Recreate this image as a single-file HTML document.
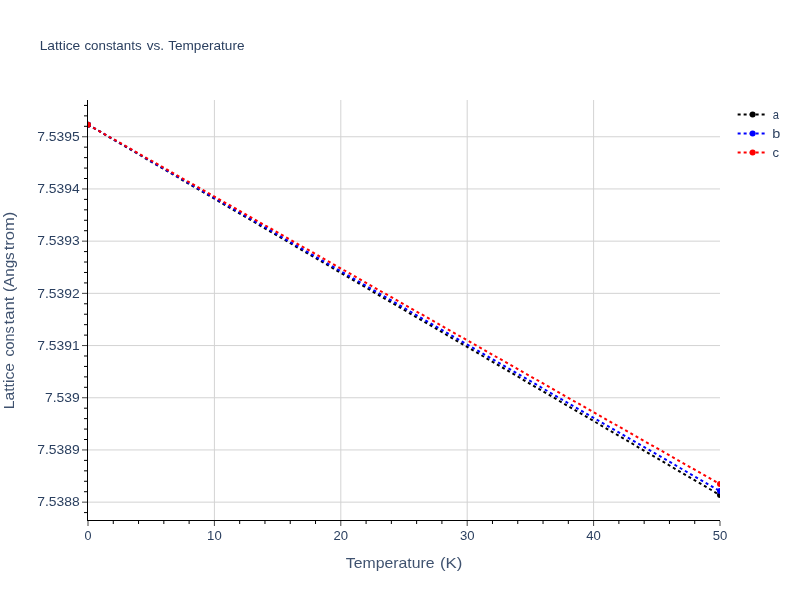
<!DOCTYPE html>
<html><head><meta charset="utf-8"><title>Lattice constants vs. Temperature</title>
<style>html,body{margin:0;padding:0;background:#fff;}body{width:800px;height:600px;overflow:hidden;}svg{display:block;will-change:transform;}text{font-family:"Liberation Sans",sans-serif;fill:#2a3f5f;}</style>
</head><body>
<svg width="800" height="600" viewBox="0 0 800 600">
<rect x="0" y="0" width="800" height="600" fill="#ffffff"/>
<defs><clipPath id="plot"><rect x="88" y="100" width="632" height="420"/></clipPath></defs>
<g stroke="#d3d3d3" stroke-width="1" fill="none">
<path d="M214.40,100 V520"/>
<path d="M340.80,100 V520"/>
<path d="M467.20,100 V520"/>
<path d="M593.60,100 V520"/>
<path d="M88,136.75 H720"/>
<path d="M88,188.95 H720"/>
<path d="M88,241.15 H720"/>
<path d="M88,293.35 H720"/>
<path d="M88,345.55 H720"/>
<path d="M88,397.75 H720"/>
<path d="M88,449.95 H720"/>
<path d="M88,502.15 H720"/>
</g>
<g clip-path="url(#plot)">
<path d="M88,124.65 L720,495.10" stroke="#000000" stroke-width="2" stroke-dasharray="3,3" fill="none"/>
<path d="M88,124.65 L720,491.10" stroke="#0000ff" stroke-width="2" stroke-dasharray="3,3" fill="none"/>
<path d="M88,124.65 L720,484.10" stroke="#ff0000" stroke-width="2" stroke-dasharray="3,3" fill="none"/>
<circle cx="88" cy="124.65" r="3" fill="#000000"/>
<circle cx="720" cy="495.10" r="3" fill="#000000"/>
<circle cx="88" cy="124.65" r="3" fill="#0000ff"/>
<circle cx="720" cy="491.10" r="3" fill="#0000ff"/>
<circle cx="88" cy="124.65" r="3" fill="#ff0000"/>
<circle cx="720" cy="484.10" r="3" fill="#ff0000"/>
</g>
<g stroke="#000000" stroke-width="1" fill="none">
<path d="M84,105.43 H87"/>
<path d="M84,115.87 H87"/>
<path d="M84,126.31 H87"/>
<path d="M84,147.19 H87"/>
<path d="M84,157.63 H87"/>
<path d="M84,168.07 H87"/>
<path d="M84,178.51 H87"/>
<path d="M84,199.39 H87"/>
<path d="M84,209.83 H87"/>
<path d="M84,220.27 H87"/>
<path d="M84,230.71 H87"/>
<path d="M84,251.59 H87"/>
<path d="M84,262.03 H87"/>
<path d="M84,272.47 H87"/>
<path d="M84,282.91 H87"/>
<path d="M84,303.79 H87"/>
<path d="M84,314.23 H87"/>
<path d="M84,324.67 H87"/>
<path d="M84,335.11 H87"/>
<path d="M84,355.99 H87"/>
<path d="M84,366.43 H87"/>
<path d="M84,376.87 H87"/>
<path d="M84,387.31 H87"/>
<path d="M84,408.19 H87"/>
<path d="M84,418.63 H87"/>
<path d="M84,429.07 H87"/>
<path d="M84,439.51 H87"/>
<path d="M84,460.39 H87"/>
<path d="M84,470.83 H87"/>
<path d="M84,481.27 H87"/>
<path d="M84,491.71 H87"/>
<path d="M84,512.59 H87"/>
<path d="M113.28,521 V524"/>
<path d="M138.56,521 V524"/>
<path d="M163.84,521 V524"/>
<path d="M189.12,521 V524"/>
<path d="M239.68,521 V524"/>
<path d="M264.96,521 V524"/>
<path d="M290.24,521 V524"/>
<path d="M315.52,521 V524"/>
<path d="M366.08,521 V524"/>
<path d="M391.36,521 V524"/>
<path d="M416.64,521 V524"/>
<path d="M441.92,521 V524"/>
<path d="M492.48,521 V524"/>
<path d="M517.76,521 V524"/>
<path d="M543.04,521 V524"/>
<path d="M568.32,521 V524"/>
<path d="M618.88,521 V524"/>
<path d="M644.16,521 V524"/>
<path d="M669.44,521 V524"/>
<path d="M694.72,521 V524"/>
</g>
<g stroke="#444444" stroke-width="1" fill="none">
<path d="M82,136.75 H87"/>
<path d="M82,188.95 H87"/>
<path d="M82,241.15 H87"/>
<path d="M82,293.35 H87"/>
<path d="M82,345.55 H87"/>
<path d="M82,397.75 H87"/>
<path d="M82,449.95 H87"/>
<path d="M82,502.15 H87"/>
<path d="M88.00,521 V526"/>
<path d="M214.40,521 V526"/>
<path d="M340.80,521 V526"/>
<path d="M467.20,521 V526"/>
<path d="M593.60,521 V526"/>
<path d="M720.00,521 V526"/>
</g>
<g stroke="#000000" stroke-width="1" fill="none">
<path d="M87.5,100 V521"/>
<path d="M87,520.5 H720"/>
</g>
<text x="37.19" y="140.90" font-size="12.70" textLength="42.50" lengthAdjust="spacingAndGlyphs">7.5395</text>
<text x="37.19" y="193.10" font-size="12.70" textLength="42.50" lengthAdjust="spacingAndGlyphs">7.5394</text>
<text x="37.19" y="245.30" font-size="12.70" textLength="42.50" lengthAdjust="spacingAndGlyphs">7.5393</text>
<text x="37.19" y="297.50" font-size="12.70" textLength="42.50" lengthAdjust="spacingAndGlyphs">7.5392</text>
<text x="37.19" y="349.70" font-size="12.70" textLength="42.50" lengthAdjust="spacingAndGlyphs">7.5391</text>
<text x="44.91" y="401.90" font-size="12.70" textLength="34.77" lengthAdjust="spacingAndGlyphs">7.539</text>
<text x="37.19" y="454.10" font-size="12.70" textLength="42.50" lengthAdjust="spacingAndGlyphs">7.5389</text>
<text x="37.19" y="506.30" font-size="12.70" textLength="42.50" lengthAdjust="spacingAndGlyphs">7.5388</text>
<text x="88.00" y="540" font-size="12.70" text-anchor="middle" textLength="7.00" lengthAdjust="spacingAndGlyphs">0</text>
<text x="214.40" y="540" font-size="12.70" text-anchor="middle" textLength="14.60" lengthAdjust="spacingAndGlyphs">10</text>
<text x="340.80" y="540" font-size="12.70" text-anchor="middle" textLength="14.60" lengthAdjust="spacingAndGlyphs">20</text>
<text x="467.20" y="540" font-size="12.70" text-anchor="middle" textLength="14.60" lengthAdjust="spacingAndGlyphs">30</text>
<text x="593.60" y="540" font-size="12.70" text-anchor="middle" textLength="14.60" lengthAdjust="spacingAndGlyphs">40</text>
<text x="720.00" y="540" font-size="12.70" text-anchor="middle" textLength="14.60" lengthAdjust="spacingAndGlyphs">50</text>
<text x="39.67" y="50.00" font-size="12.70" textLength="40.64" lengthAdjust="spacingAndGlyphs">Lattice</text>
<text x="84.43" y="50.00" font-size="12.70" textLength="57.15" lengthAdjust="spacingAndGlyphs">constants</text>
<text x="146.70" y="50.00" font-size="12.70" textLength="17.44" lengthAdjust="spacingAndGlyphs">vs.</text>
<text x="168.19" y="50.00" font-size="12.70" textLength="76.31" lengthAdjust="spacingAndGlyphs">Temperature</text>
<text x="345.84" y="567.70" font-size="14.80" textLength="88.76" lengthAdjust="spacingAndGlyphs" fill-opacity="0.9">Temperature</text>
<text x="439.96" y="567.70" font-size="14.80" textLength="22.38" lengthAdjust="spacingAndGlyphs" fill-opacity="0.9">(K)</text>
<g transform="translate(14.2,0) rotate(-90)">
<text x="-409.29" y="0.00" font-size="14.80" textLength="46.29" lengthAdjust="spacingAndGlyphs" fill-opacity="0.9">Lattice</text>
<text x="-356.61" y="0.00" font-size="14.80" textLength="30.43" lengthAdjust="spacingAndGlyphs" fill-opacity="0.9">cons</text>
<text x="-324.45" y="0.00" font-size="14.80" textLength="27.88" lengthAdjust="spacingAndGlyphs" fill-opacity="0.9">tant</text>
<text x="-291.94" y="0.00" font-size="14.80" textLength="39.59" lengthAdjust="spacingAndGlyphs" fill-opacity="0.9">(Angs</text>
<text x="-250.25" y="0.00" font-size="14.80" textLength="38.58" lengthAdjust="spacingAndGlyphs" fill-opacity="0.9">trom)</text>
</g>
<path d="M737.64,114.5 H767.64" stroke="#000000" stroke-width="2" stroke-dasharray="3,3" fill="none"/>
<circle cx="752.64" cy="114.5" r="3" fill="#000000"/>
<text x="772.72" y="118.80" font-size="12.70" textLength="6.23" lengthAdjust="spacingAndGlyphs">a</text>
<path d="M737.64,133.5 H767.64" stroke="#0000ff" stroke-width="2" stroke-dasharray="3,3" fill="none"/>
<circle cx="752.64" cy="133.5" r="3" fill="#0000ff"/>
<text x="772.27" y="137.80" font-size="12.70" textLength="8.04" lengthAdjust="spacingAndGlyphs">b</text>
<path d="M737.64,152.5 H767.64" stroke="#ff0000" stroke-width="2" stroke-dasharray="3,3" fill="none"/>
<circle cx="752.64" cy="152.5" r="3" fill="#ff0000"/>
<text x="772.64" y="156.80" font-size="12.70" textLength="6.55" lengthAdjust="spacingAndGlyphs">c</text>
</svg>
</body></html>
